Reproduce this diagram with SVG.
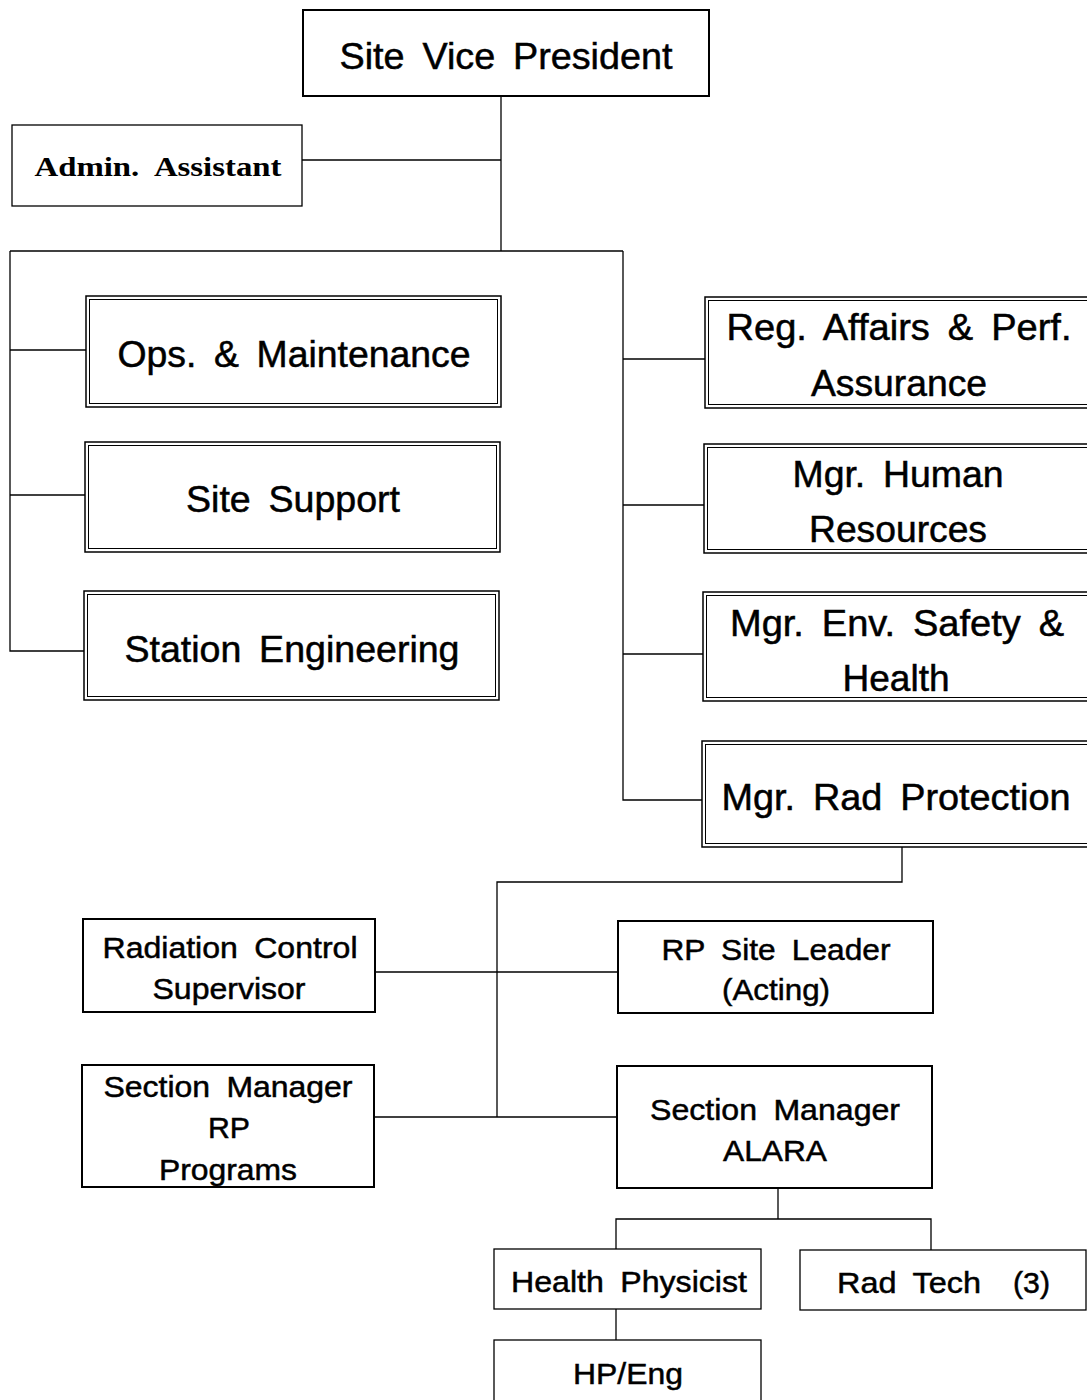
<svg xmlns="http://www.w3.org/2000/svg" width="1087" height="1400" viewBox="0 0 1087 1400">
<style>
.bg{fill:#fff}
.box{fill:#fff;stroke:#000;stroke-width:2}
.thin{fill:#fff;stroke:#000;stroke-width:1.3}
.inner{fill:none;stroke:#000;stroke-width:1}
.ln{fill:none;stroke:#000;stroke-width:1.3}
text{font-family:"Liberation Sans",Arial,sans-serif;fill:#000;text-anchor:middle;stroke:#000;stroke-width:0.5;word-spacing:7px}
.big{font-size:36px}
.mid{font-size:30px}
.ser{font-family:"Liberation Serif","Times New Roman",serif;font-weight:bold;font-size:28px;stroke:none}
</style>
<rect class="bg" x="0" y="0" width="1087" height="1400"/>
<g id="connectors">
<polyline class="ln" points="501,96 501,251"/>
<polyline class="ln" points="302,160 501,160"/>
<polyline class="ln" points="10,251 623,251"/>
<polyline class="ln" points="10,251 10,651 84,651"/>
<polyline class="ln" points="10,350 86,350"/>
<polyline class="ln" points="10,495 85,495"/>
<polyline class="ln" points="623,251 623,800 702,800"/>
<polyline class="ln" points="623,359 705,359"/>
<polyline class="ln" points="623,505 704,505"/>
<polyline class="ln" points="623,654 703,654"/>
<polyline class="ln" points="902,847 902,882 497,882 497,1117"/>
<polyline class="ln" points="375,972 618,972"/>
<polyline class="ln" points="374,1117 617,1117"/>
<polyline class="ln" points="778,1188 778,1219"/>
<polyline class="ln" points="616,1249 616,1219 931,1219 931,1250"/>
<polyline class="ln" points="616,1309 616,1340"/>
</g>
<g id="vp">
<rect class="box" x="303" y="10" width="406" height="86"/>
<text class="big" x="506" y="69" textLength="333" lengthAdjust="spacingAndGlyphs">Site Vice President</text>
</g>
<g id="admin">
<rect class="thin" x="12" y="125" width="290" height="81"/>
<text class="ser" x="158" y="176" textLength="247" lengthAdjust="spacingAndGlyphs">Admin. Assistant</text>
</g>
<g id="ops">
<rect class="box" x="86" y="296" width="415" height="111" style="stroke-width:1.5"/>
<rect class="inner" x="89.5" y="299.5" width="408" height="104"/>
<text class="big" x="294" y="367" textLength="353" lengthAdjust="spacingAndGlyphs">Ops. &amp; Maintenance</text>
</g>
<g id="sitesupport">
<rect class="box" x="85" y="442" width="415" height="110" style="stroke-width:1.5"/>
<rect class="inner" x="88.5" y="445.5" width="408" height="103"/>
<text class="big" x="293" y="512" textLength="214" lengthAdjust="spacingAndGlyphs">Site Support</text>
</g>
<g id="stationeng">
<rect class="box" x="84" y="591" width="415" height="109" style="stroke-width:1.5"/>
<rect class="inner" x="87.5" y="594.5" width="408" height="102"/>
<text class="big" x="292" y="662" textLength="335" lengthAdjust="spacingAndGlyphs">Station Engineering</text>
</g>
<g id="regaffairs">
<rect class="box" x="705" y="297" width="390" height="111" style="stroke-width:1.5"/>
<rect class="inner" x="708.5" y="300.5" width="390" height="104"/>
<text class="big" x="899" y="340" textLength="345" lengthAdjust="spacingAndGlyphs">Reg. Affairs &amp; Perf.</text>
<text class="big" x="899" y="396" textLength="176" lengthAdjust="spacingAndGlyphs">Assurance</text>
</g>
<g id="hr">
<rect class="box" x="704" y="444" width="390" height="109" style="stroke-width:1.5"/>
<rect class="inner" x="707.5" y="447.5" width="390" height="102"/>
<text class="big" x="898" y="487" textLength="211" lengthAdjust="spacingAndGlyphs">Mgr. Human</text>
<text class="big" x="898" y="542" textLength="178" lengthAdjust="spacingAndGlyphs">Resources</text>
</g>
<g id="envsafety">
<rect class="box" x="703" y="592" width="390" height="109" style="stroke-width:1.5"/>
<rect class="inner" x="706.5" y="595.5" width="390" height="102"/>
<text class="big" x="897" y="636" textLength="334" lengthAdjust="spacingAndGlyphs">Mgr. Env. Safety &amp;</text>
<text class="big" x="896" y="691" textLength="107" lengthAdjust="spacingAndGlyphs">Health</text>
</g>
<g id="radprot">
<rect class="box" x="702" y="741" width="390" height="106" style="stroke-width:1.5"/>
<rect class="inner" x="705.5" y="744.5" width="390" height="99"/>
<text class="big" x="896" y="810" textLength="349" lengthAdjust="spacingAndGlyphs">Mgr. Rad Protection</text>
</g>
<g id="radcontrol">
<rect class="box" x="83" y="919" width="292" height="93"/>
<text class="mid" x="230" y="958" textLength="255" lengthAdjust="spacingAndGlyphs">Radiation Control</text>
<text class="mid" x="229" y="999" textLength="153" lengthAdjust="spacingAndGlyphs">Supervisor</text>
</g>
<g id="rpsiteleader">
<rect class="box" x="618" y="921" width="315" height="92"/>
<text class="mid" x="776" y="960" textLength="229" lengthAdjust="spacingAndGlyphs">RP Site Leader</text>
<text class="mid" x="776" y="1000" textLength="108" lengthAdjust="spacingAndGlyphs">(Acting)</text>
</g>
<g id="smrpprograms">
<rect class="box" x="82" y="1065" width="292" height="122"/>
<text class="mid" x="228" y="1097" textLength="249" lengthAdjust="spacingAndGlyphs">Section Manager</text>
<text class="mid" x="229" y="1138" textLength="42" lengthAdjust="spacingAndGlyphs">RP</text>
<text class="mid" x="228" y="1180" textLength="138" lengthAdjust="spacingAndGlyphs">Programs</text>
</g>
<g id="smalara">
<rect class="box" x="617" y="1066" width="315" height="122"/>
<text class="mid" x="775" y="1120" textLength="250" lengthAdjust="spacingAndGlyphs">Section Manager</text>
<text class="mid" x="775" y="1161" textLength="104" lengthAdjust="spacingAndGlyphs">ALARA</text>
</g>
<g id="healthphysicist">
<rect class="thin" x="494" y="1249" width="267" height="60"/>
<text class="mid" x="629" y="1292" textLength="236" lengthAdjust="spacingAndGlyphs">Health Physicist</text>
</g>
<g id="radtech">
<rect class="thin" x="800" y="1250" width="286" height="60"/>
<text class="mid" x="943" y="1293"><tspan x="909" textLength="144" lengthAdjust="spacingAndGlyphs">Rad Tech</tspan><tspan x="1031.5" textLength="37" lengthAdjust="spacingAndGlyphs">(3)</tspan></text>
</g>
<g id="hpeng">
<rect class="thin" x="494" y="1340" width="267" height="70"/>
<text class="mid" x="628" y="1384" textLength="110" lengthAdjust="spacingAndGlyphs">HP/Eng</text>
</g>
</svg>
